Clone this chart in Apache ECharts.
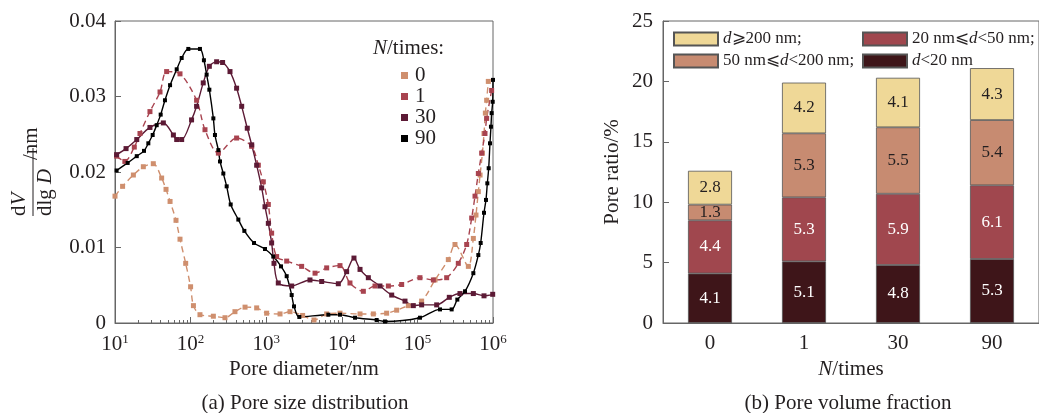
<!DOCTYPE html>
<html>
<head>
<meta charset="utf-8">
<script src="https://cdn.jsdelivr.net/npm/echarts@6/dist/echarts.min.js"></script>
<style>
html, body { margin: 0; padding: 0; background: #fff; }
#main { width: 1039px; height: 413px; }
</style>
</head>
<body>
<div id="main"></div>
<script>
// (a) pore size distribution: [diameter nm, dV/dlgD]
var n0 = [[10,0.0168],[12.6,0.0181],[17.5,0.0196],[23.7,0.0207],[32.1,0.0211],[41.4,0.0192],[47.3,0.0177],[53.5,0.0161],[64.1,0.0136],[72.4,0.0111],[86.1,0.0079],[100,0.0048],[109,0.0023],[133,0.0011],[200,0.0009],[285,0.0007],[386,0.0015],[525,0.0021],[748,0.0020],[1014,0.0013],[1524,0.0012],[2065,0.0015],[3034,0.0010],[4285,0.0004],[6310,0.0012],[9462,0.0013],[17418,0.0012],[26122,0.0012],[39174,0.0013],[53211,0.0017],[75858,0.0023],[113763,0.0029],[171000,0.0057],[256448,0.0084],[314050,0.0104],[472063,0.0075],[549541,0.0112],[595662,0.0143],[639735,0.0174],[674528,0.0196],[724436,0.0225],[760326,0.0251],[792447,0.0278],[824138,0.0295],[866962,0.0320]];
var n1 = [[10.5,0.0221],[13.5,0.0214],[18,0.0233],[21.4,0.0251],[29,0.0280],[39.4,0.0306],[48.2,0.0333],[72.4,0.0330],[120,0.0295],[155,0.0256],[233,0.0225],[406,0.0245],[643,0.0234],[787,0.0209],[916,0.0187],[1067,0.0157],[1180,0.0119],[1374,0.0088],[1866,0.0082],[2944,0.0075],[4426,0.0066],[6310,0.0073],[9462,0.0076],[12823,0.0053],[19275,0.0042],[27479,0.0049],[41305,0.0049],[61944,0.0051],[108143,0.0060],[162555,0.0057],[243781,0.0060],[347536,0.0079],[448745,0.0104],[522396,0.0139],[578096,0.0168],[639735,0.0198],[707946,0.0225],[783430,0.0251],[824138,0.0271],[959401,0.0308]];
var n30 = [[10.5,0.0223],[14,0.0231],[19.4,0.0243],[29,0.0259],[43.6,0.0265],[59.2,0.0249],[65.5,0.0243],[76.2,0.0243],[103,0.0269],[120,0.0287],[147,0.0318],[177,0.0340],[221,0.0346],[265,0.0345],[332,0.0333],[406,0.0311],[474,0.0287],[562,0.0258],[643,0.0236],[748,0.0209],[871,0.0179],[964,0.0154],[1067,0.0132],[1180,0.0106],[1268,0.0079],[1445,0.0053],[2173,0.0049],[3793,0.0057],[5420,0.0055],[8995,0.0052],[11588,0.0068],[14488,0.0086],[17418,0.0071],[22439,0.0060],[31989,0.0049],[45709,0.0037],[68549,0.0029],[88308,0.0023],[113763,0.0024],[179887,0.0024],[264240,0.0034],[365595,0.0039],[549541,0.0039],[760326,0.0036],[990832,0.0038]];
var n90 = [[10.5,0.0202],[14.7,0.0212],[19.4,0.0221],[24.2,0.0228],[27.6,0.0238],[31.5,0.0249],[35.6,0.0262],[40.2,0.0276],[45.8,0.0295],[53.5,0.0315],[65.5,0.0336],[76.2,0.0351],[93.3,0.0363],[133,0.0363],[150,0.0348],[163,0.0329],[177,0.0309],[200,0.0271],[210,0.0249],[233,0.0229],[245,0.0214],[271,0.0198],[300,0.0181],[339,0.0157],[428,0.0137],[514,0.0122],[690,0.0106],[964,0.0098],[1242,0.0088],[1570,0.0075],[1866,0.0062],[2173,0.0037],[2333,0.0022],[2742,0.0008],[6637,0.0011],[9462,0.0011],[14962,0.0007],[28907,0.0004],[37239,0.0002],[108143,0.0007],[199067,0.0018],[283792,0.0018],[337287,0.0031],[426580,0.0042],[549541,0.0066],[639735,0.0090],[687068,0.0106],[760326,0.0146],[807235,0.0163],[841395,0.0185],[877000,0.0205],[912011,0.0238],[939723,0.0260],[959401,0.0278],[990832,0.0293],[1000000,0.0322]];
var decades = [10, 100, 1000, 10000, 100000, 1000000];

// (b) pore volume fraction
var times = ['0', '1', '30', '90'];
var lt20 = [4.1, 5.1, 4.8, 5.3];
var d20to50 = [4.4, 5.3, 5.9, 6.1];
var d50to200 = [1.3, 5.3, 5.5, 5.4];
var ge200 = [2.8, 4.2, 4.1, 4.3];

var minors = [];
decades.slice(0, 5).forEach(function (d) {
    for (var k = 2; k <= 9; k++) minors.push(d * k);
});

var FONT = 'Liberation Serif';
var TXT = '#231f20';
var AX = '#666';

var chart = echarts.init(document.getElementById('main'));

function lineSeries(name, data, color, dashed, size) {
    return {
        name: name, type: 'line', xAxisIndex: 0, yAxisIndex: 0,
        data: data, smooth: 0.3,
        symbol: 'rect', symbolSize: size,
        itemStyle: { color: color },
        lineStyle: { color: color, width: 1.4, type: dashed ? [6, 4] : 'solid' },
        z: 3
    };
}

function barSeries(name, data, color, labelColor) {
    return {
        name: name, type: 'bar', stack: 'total',
        xAxisIndex: 2, yAxisIndex: 1,
        data: data, barWidth: 44,
        itemStyle: { color: color, borderColor: '#555', borderWidth: 0.8 },
        label: {
            show: true, position: 'inside',
            fontFamily: FONT, fontSize: 17, color: labelColor,
            formatter: function (p) { return p.value.toFixed(1); }
        }
    };
}

var dRich = {
    i: { fontFamily: FONT, fontStyle: 'italic', fontSize: 17, color: TXT },
    t: { fontFamily: FONT, fontSize: 17, color: TXT }
};
var legendNames = {
    'ge200': '{i|d}{t|⩾200 nm;}',
    'd20to50': '{t|20 nm⩽}{i|d}{t|<50 nm;}',
    'd50to200': '{t|50 nm⩽}{i|d}{t|<200 nm;}',
    'lt20': '{i|d}{t|<20 nm}'
};

var option = {
    backgroundColor: '#fff',
    textStyle: { fontFamily: FONT, color: TXT },
    grid: [
        { left: 115, top: 21, width: 378, height: 302, show: true, borderColor: AX, borderWidth: 1 },
        { left: 663, top: 21, width: 380, height: 302, show: true, borderColor: AX, borderWidth: 1 }
    ],
    legend: [
        {
            data: ['0', '1', '30', '90'],
            orient: 'vertical', left: 396, top: 60,
            icon: 'rect', itemWidth: 7, itemHeight: 7, itemGap: 0,
            textStyle: { fontFamily: FONT, fontSize: 21, color: TXT, lineHeight: 21, padding: [0, 0, 0, 2] }
        },
        {
            data: ['ge200', 'd50to200'],
            orient: 'vertical', left: 668, top: 24,
            icon: 'rect', itemWidth: 44, itemHeight: 13, itemGap: 2,
            formatter: function (n) { return legendNames[n]; },
            textStyle: { rich: dRich, lineHeight: 20 }
        },
        {
            data: ['d20to50', 'lt20'],
            orient: 'vertical', left: 857, top: 24,
            icon: 'rect', itemWidth: 44, itemHeight: 13, itemGap: 2,
            formatter: function (n) { return legendNames[n]; },
            textStyle: { rich: dRich, lineHeight: 20 }
        }
    ],
    xAxis: [
        {
            gridIndex: 0, type: 'log', logBase: 10, min: 10, max: 1000000, position: 'bottom',
            name: 'Pore diameter/nm', nameLocation: 'middle', nameGap: 35,
            nameTextStyle: { fontFamily: FONT, fontSize: 21, color: TXT },
            axisLine: { onZero: false, lineStyle: { color: AX } },
            axisTick: { inside: true, length: 6, lineStyle: { color: AX }, customValues: decades },
            splitLine: { show: false },
            axisLabel: {
                customValues: decades, margin: 10,
                formatter: function (v) { return '{b|10}{s|' + Math.round(Math.log10(v)) + '}'; },
                rich: {
                    b: { fontFamily: FONT, fontSize: 21, color: TXT, lineHeight: 22 },
                    s: { fontFamily: FONT, fontSize: 13, color: TXT, verticalAlign: 'top', lineHeight: 14 }
                }
            }
        },
        {
            gridIndex: 0, type: 'log', logBase: 10, min: 10, max: 1000000, position: 'bottom',
            axisLine: { show: false, onZero: false },
            axisTick: { inside: true, length: 3, lineStyle: { color: AX }, customValues: minors },
            axisLabel: { show: false },
            splitLine: { show: false }
        },
        {
            gridIndex: 1, type: 'category', data: times, position: 'bottom',
            name: '{i|N}{t|/times}', nameLocation: 'middle', nameGap: 35,
            nameTextStyle: {
                rich: {
                    i: { fontFamily: FONT, fontStyle: 'italic', fontSize: 21, color: TXT },
                    t: { fontFamily: FONT, fontSize: 21, color: TXT }
                }
            },
            axisLine: { onZero: false, lineStyle: { color: AX } },
            axisTick: { show: false },
            axisLabel: { fontFamily: FONT, fontSize: 21, color: TXT, margin: 10 }
        }
    ],
    yAxis: [
        {
            gridIndex: 0, type: 'value', min: 0, max: 0.04, interval: 0.01,
            axisLine: { show: true, lineStyle: { color: AX } },
            axisTick: { show: true, inside: true, length: 6, lineStyle: { color: AX } },
            splitLine: { show: false },
            axisLabel: {
                fontFamily: FONT, fontSize: 21, color: TXT, margin: 9,
                formatter: function (v) { return v === 0 ? '0' : v.toFixed(2); }
            }
        },
        {
            gridIndex: 1, type: 'value', min: 0, max: 25, interval: 5,
            name: 'Pore ratio/%', nameLocation: 'middle', nameGap: 40, nameRotate: 90,
            nameTextStyle: { fontFamily: FONT, fontSize: 21, color: TXT },
            axisLine: { show: true, lineStyle: { color: AX } },
            axisTick: { show: true, inside: true, length: 6, lineStyle: { color: AX } },
            splitLine: { show: false },
            axisLabel: { fontFamily: FONT, fontSize: 21, color: TXT, margin: 10 }
        }
    ],
    series: [
        lineSeries('0', n0, '#cf8f6e', true, 5),
        lineSeries('1', n1, '#a8434f', true, 5),
        lineSeries('30', n30, '#5c1a35', false, 5),
        lineSeries('90', n90, '#000000', false, 4),
        barSeries('lt20', lt20, '#3e1519', '#fff'),
        barSeries('d20to50', d20to50, '#a0474e', '#fff'),
        barSeries('d50to200', d50to200, '#c78b71', TXT),
        barSeries('ge200', ge200, '#efd897', TXT)
    ],
    graphic: [
        {
            type: 'text', left: 373, top: 38,
            style: {
                text: '{i|N}{t|/times:}',
                rich: {
                    i: { fontFamily: FONT, fontStyle: 'italic', fontSize: 21, fill: TXT },
                    t: { fontFamily: FONT, fontSize: 21, fill: TXT }
                }
            }
        },
        {
            type: 'group', x: 33, y: 182, rotation: Math.PI / 2,
            children: [
                { type: 'text', x: -34, y: -3, style: { text: '{t|d}{i|V}', rich: { t: { fontFamily: FONT, fontSize: 21, fill: TXT }, i: { fontFamily: FONT, fontStyle: 'italic', fontSize: 21, fill: TXT } }, textAlign: 'left', textVerticalAlign: 'bottom' } },
                { type: 'line', shape: { x1: -34, y1: 0, x2: 34, y2: 0 }, style: { stroke: TXT, lineWidth: 1 } },
                { type: 'text', x: -34, y: 2, style: { text: '{t|dlg }{i|D}', rich: { t: { fontFamily: FONT, fontSize: 21, fill: TXT }, i: { fontFamily: FONT, fontStyle: 'italic', fontSize: 21, fill: TXT } }, textAlign: 'left', textVerticalAlign: 'top' } },
                { type: 'text', x: 22, y: -2, style: { text: '/nm', fontFamily: FONT, fontSize: 21, fill: TXT, textAlign: 'left', textVerticalAlign: 'middle' } }
            ]
        },
        {
            type: 'text', x: 305, y: 403,
            style: { text: '(a) Pore size distribution', fontFamily: FONT, fontSize: 21, fill: TXT, textAlign: 'center', textVerticalAlign: 'middle' }
        },
        {
            type: 'text', x: 848, y: 403,
            style: { text: '(b) Pore volume fraction', fontFamily: FONT, fontSize: 21, fill: TXT, textAlign: 'center', textVerticalAlign: 'middle' }
        }
    ]
};

chart.setOption(option);
</script>
</body>
</html>
